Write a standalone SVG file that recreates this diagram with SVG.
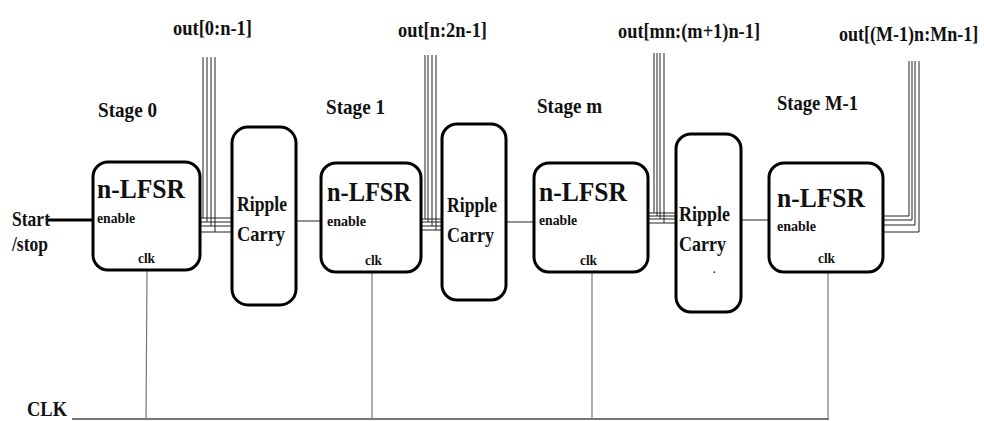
<svg xmlns="http://www.w3.org/2000/svg" width="984" height="421" viewBox="0 0 984 421">
<style>
.t{font-family:"Liberation Serif","Times New Roman",serif;font-weight:bold;fill:#111}
.box{fill:#fff;stroke:#000;stroke-width:3}
.bus{fill:none;stroke:#222;stroke-width:1}
.w{fill:none;stroke:#222;stroke-width:1}
.clk{fill:none;stroke:#777;stroke-width:1.2}
</style>
<rect width="984" height="421" fill="#fff"/>

<g id="labels">
<text class="t" x="173" y="35" font-size="22" textLength="79" lengthAdjust="spacingAndGlyphs">out[0:n-1]</text>
<text class="t" x="398" y="37" font-size="22" textLength="89" lengthAdjust="spacingAndGlyphs">out[n:2n-1]</text>
<text class="t" x="618" y="38" font-size="22" textLength="142" lengthAdjust="spacingAndGlyphs">out[mn:(m+1)n-1]</text>
<text class="t" transform="translate(839,41) scale(0.82,1)" x="0" y="0" font-size="22">out[(M-1)n:Mn-1]</text>
<text class="t" x="98" y="117" font-size="21" textLength="59" lengthAdjust="spacingAndGlyphs">Stage 0</text>
<text class="t" x="326" y="114" font-size="21" textLength="59" lengthAdjust="spacingAndGlyphs">Stage 1</text>
<text class="t" x="537" y="113" font-size="21" textLength="65" lengthAdjust="spacingAndGlyphs">Stage m</text>
<text class="t" x="777" y="110" font-size="21" textLength="81" lengthAdjust="spacingAndGlyphs">Stage M-1</text>
<text class="t" x="12" y="226" font-size="22" textLength="38" lengthAdjust="spacingAndGlyphs">Start</text>
<text class="t" x="12" y="251" font-size="22" textLength="36" lengthAdjust="spacingAndGlyphs">/stop</text>
<text class="t" x="27" y="416" font-size="20" textLength="40" lengthAdjust="spacingAndGlyphs">CLK</text>
</g>

<g id="connectors">
<line x1="48" y1="220" x2="93" y2="220" stroke="#000" stroke-width="3"/>
<line class="w" x1="295" y1="221" x2="321" y2="221"/>
<line class="w" x1="506" y1="222" x2="534" y2="222"/>
<line class="w" x1="741" y1="220" x2="769" y2="220"/>
<line x1="72" y1="419" x2="829" y2="419" stroke="#777" stroke-width="2"/>
<line class="clk" x1="147" y1="270" x2="146" y2="419"/>
<line class="clk" x1="372" y1="272" x2="372" y2="419"/>
<line class="clk" x1="592" y1="272" x2="592" y2="419"/>
<line class="clk" x1="828" y1="272" x2="828" y2="419"/>
<g class="bus">
<path d="M200 218H232M200 222H232M200 226H232M200 232H232"/>
<path d="M203 57V218M207 57V222M211 57V226M215 57V232"/>
</g>
<g class="bus">
<path d="M421 219H442M421 222H442M421 226H442M421 230H442"/>
<path d="M425 55V219M428 55V222M432 55V226M436 55V230"/>
</g>
<g class="bus">
<path d="M648 213H676M648 216H676M648 219H676M648 223H676"/>
<path d="M654 53V213M657 53V216M660 53V219M664 53V223"/>
</g>
<g class="bus">
<path d="M883 216H909V61M883 220H912V61M883 225H915V61M883 232H919V61"/>
</g>
</g>

<g id="lfsr0">
<rect class="box" x="93" y="162" width="107" height="108" rx="15"/>
<text class="t" x="97" y="198" font-size="27" textLength="88" lengthAdjust="spacingAndGlyphs">n-LFSR</text>
<text class="t" x="97" y="223" font-size="14" textLength="38" lengthAdjust="spacingAndGlyphs">enable</text>
<text class="t" x="138" y="263" font-size="14" textLength="17" lengthAdjust="spacingAndGlyphs">clk</text>
</g>
<g id="ripple0">
<rect class="box" x="232" y="127" width="64" height="178" rx="16"/>
<text class="t" x="237" y="211" font-size="21" textLength="50" lengthAdjust="spacingAndGlyphs">Ripple</text>
<text class="t" x="237" y="241" font-size="21" textLength="48" lengthAdjust="spacingAndGlyphs">Carry</text>
</g>
<g id="lfsr1">
<rect class="box" x="321" y="163" width="100" height="109" rx="15"/>
<text class="t" x="327" y="201" font-size="27" textLength="84" lengthAdjust="spacingAndGlyphs">n-LFSR</text>
<text class="t" x="327" y="226" font-size="14" textLength="39" lengthAdjust="spacingAndGlyphs">enable</text>
<text class="t" x="365" y="265" font-size="14" textLength="17" lengthAdjust="spacingAndGlyphs">clk</text>
</g>
<g id="ripple1">
<rect class="box" x="442" y="124" width="64" height="176" rx="15"/>
<text class="t" x="447" y="212" font-size="21" textLength="50" lengthAdjust="spacingAndGlyphs">Ripple</text>
<text class="t" x="447" y="242" font-size="21" textLength="47" lengthAdjust="spacingAndGlyphs">Carry</text>
</g>
<g id="lfsrm">
<rect class="box" x="534" y="163" width="114" height="109" rx="15"/>
<text class="t" x="539" y="201" font-size="27" textLength="88" lengthAdjust="spacingAndGlyphs">n-LFSR</text>
<text class="t" x="539" y="225" font-size="14" textLength="38" lengthAdjust="spacingAndGlyphs">enable</text>
<text class="t" x="580" y="265" font-size="14" textLength="17" lengthAdjust="spacingAndGlyphs">clk</text>
</g>
<g id="ripple2">
<rect class="box" x="676" y="134" width="65" height="178" rx="15"/>
<text class="t" x="679" y="221" font-size="21" textLength="51" lengthAdjust="spacingAndGlyphs">Ripple</text>
<text class="t" x="679" y="251" font-size="21" textLength="47" lengthAdjust="spacingAndGlyphs">Carry</text>
<text class="t" x="713" y="273" font-size="10">.</text>
</g>
<g id="lfsrM1">
<rect class="box" x="769" y="163" width="114" height="109" rx="15"/>
<text class="t" x="777" y="207" font-size="27" textLength="88" lengthAdjust="spacingAndGlyphs">n-LFSR</text>
<text class="t" x="777" y="231" font-size="14" textLength="39" lengthAdjust="spacingAndGlyphs">enable</text>
<text class="t" x="818" y="263" font-size="14" textLength="17" lengthAdjust="spacingAndGlyphs">clk</text>
</g>
</svg>
